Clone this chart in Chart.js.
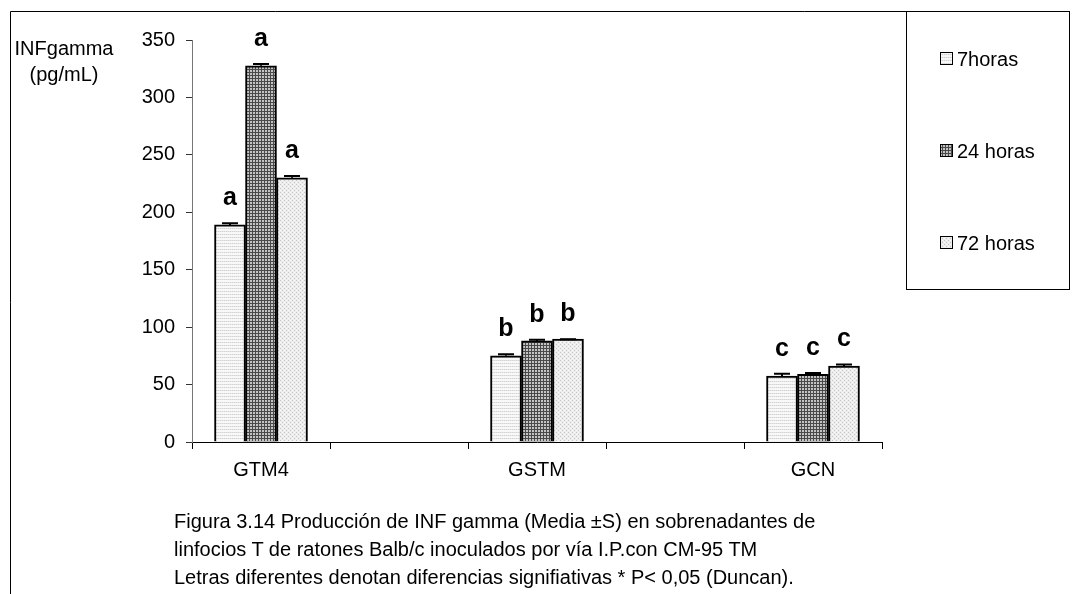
<!DOCTYPE html>
<html><head><meta charset="utf-8">
<script src="https://cdn.jsdelivr.net/npm/chart.js@4.4.1/dist/chart.umd.min.js"></script>
<style>
html,body{margin:0;padding:0;background:#fff;}
#wrap{position:relative;width:1074px;height:594px;overflow:hidden;font-family:"Liberation Sans",Arial,sans-serif;color:#000;background:#fff;}
#c{position:absolute;left:0;top:0;}
#ytitle{position:absolute;left:0;top:35px;width:128px;text-align:center;font-size:20px;line-height:26px;}
#caption{position:absolute;left:174px;top:507px;font-size:20px;line-height:28px;white-space:nowrap;}
</style></head>
<body><div id="wrap"><canvas id="c" width="1074" height="594"></canvas>
<div id="ytitle"></div><div id="caption"></div></div>
<script>
// ---- data ----
const categories = ['GTM4', 'GSTM', 'GCN'];
const seriesNames = ['7horas', '24 horas', '72 horas'];
const values7h  = [189, 75, 57.5];
const values24h = [327.5, 88, 59];
const values72h = [230, 89.5, 66];
const errors7h  = [1.5, 1.5, 2];
const errors24h = [1.5, 1, 1];
const errors72h = [1.5, 0, 1.5];
const letters7h  = ['a', 'b', 'c'];
const letters24h = ['a', 'b', 'c'];
const letters72h = ['a', 'b', 'c'];
const yTickValues = [0, 50, 100, 150, 200, 250, 300, 350];
const yAxisTitle = ['INFgamma', '(pg/mL)'];
const captionLines = [
  'Figura 3.14 Producción de INF gamma (Media ±S) en sobrenadantes de',
  'linfocios T de ratones Balb/c inoculados por vía I.P.con CM-95 TM',
  'Letras diferentes denotan diferencias signifiativas * P< 0,05 (Duncan).'
];

document.getElementById('ytitle').innerHTML = yAxisTitle.join('<br>');
document.getElementById('caption').innerHTML = captionLines.join('<br>');

const FONT = '"Liberation Sans", Arial, sans-serif';

function makePattern(w, h, draw) {
  const c = document.createElement('canvas');
  c.width = w; c.height = h;
  const g = c.getContext('2d');
  draw(g);
  return g.createPattern(c, 'repeat');
}
const pat7 = makePattern(4, 3, g => {
  g.fillStyle = '#f8f8f8'; g.fillRect(0, 0, 4, 3);
  g.fillStyle = '#d2d2d2'; g.fillRect(0, 0, 4, 1);
  g.fillStyle = '#e6e6e6'; g.fillRect(1, 0, 1, 1); g.fillRect(3, 0, 1, 1);
});
const pat24 = makePattern(3, 3, g => {
  g.fillStyle = '#c4c4c4'; g.fillRect(0, 0, 3, 3);
  g.fillStyle = '#4a4a4a'; g.fillRect(0, 0, 3, 1); g.fillRect(0, 0, 1, 3);
});
const pat72 = makePattern(4, 4, g => {
  g.fillStyle = '#ededed'; g.fillRect(0, 0, 4, 4);
  g.fillStyle = '#c6c6c6'; g.fillRect(0, 0, 1, 1); g.fillRect(2, 2, 1, 1);
  g.fillStyle = '#f8f8f8'; g.fillRect(2, 0, 1, 1); g.fillRect(0, 2, 1, 1);
});

const seriesValues = [values7h, values24h, values72h];
const seriesErrors = [errors7h, errors24h, errors72h];
const seriesLetters = [letters7h, letters24h, letters72h];
const seriesFill = [pat7, pat24, pat72];

const datasets = seriesNames.map((name, s) => ({
  label: name,
  data: seriesValues[s].map((v, i) => ({ x: i + 1, y: v })),
  errors: seriesErrors[s],
  letters: seriesLetters[s],
  backgroundColor: seriesFill[s],
  borderColor: '#000',
  borderWidth: 2,
  barThickness: 31,
  grouped: true
}));

const errorBarsPlugin = {
  id: 'errorBars',
  afterDatasetsDraw(chart) {
    const ctx = chart.ctx, y = chart.scales.y;
    ctx.save();
    chart.data.datasets.forEach((ds, di) => {
      const meta = chart.getDatasetMeta(di);
      meta.data.forEach((el, i) => {
        const v = ds.data[i].y, e = ds.errors[i];
        const top = y.getPixelForValue(v + e);
        ctx.strokeStyle = '#000';
        ctx.lineWidth = 2;
        ctx.beginPath();
        ctx.moveTo(el.x, el.y); ctx.lineTo(el.x, top);
        ctx.moveTo(el.x - 8, top); ctx.lineTo(el.x + 8, top);
        ctx.stroke();
        // significance letter
        ctx.fillStyle = '#000';
        ctx.font = 'bold 25px ' + FONT;
        ctx.textAlign = 'center';
        ctx.textBaseline = 'alphabetic';
        ctx.fillText(ds.letters[i], el.x, top - 18);
      });
    });
    ctx.restore();
  }
};

const frameLegendPlugin = {
  id: 'frameLegend',
  afterDraw(chart) {
    const ctx = chart.ctx;
    ctx.save();
    ctx.strokeStyle = '#000';
    ctx.lineWidth = 1;
    ctx.beginPath();
    ctx.moveTo(10.5, 594); ctx.lineTo(10.5, 11.5); ctx.lineTo(1069.5, 11.5);
    ctx.stroke();
    ctx.strokeRect(906.5, 11.5, 163, 278);
    const rows = [59, 151, 243];
    ctx.font = '20px ' + FONT;
    ctx.textBaseline = 'middle';
    ctx.textAlign = 'left';
    chart.data.datasets.forEach((ds, i) => {
      const cy = rows[i];
      ctx.fillStyle = ds.backgroundColor;
      ctx.fillRect(940, cy - 6, 12, 12);
      ctx.strokeStyle = '#000';
      ctx.lineWidth = 1;
      ctx.strokeRect(940.5, cy - 6.5, 12, 12);
      ctx.fillStyle = '#000';
      ctx.fillText(ds.label, 957, cy + 1);
    });
    ctx.restore();
  }
};

new Chart(document.getElementById('c'), {
  type: 'bar',
  data: { datasets },
  plugins: [errorBarsPlugin, frameLegendPlugin],
  options: {
    responsive: false,
    animation: false,
    layout: { padding: { left: 0, top: 40, right: 192, bottom: 112 } },
    plugins: { legend: { display: false }, tooltip: { enabled: false } },
    scales: {
      x: {
        type: 'linear',
        min: 0.75, max: 3.25,
        offset: false,
        afterBuildTicks: s => {
          s.ticks = [0.75, 1, 1.25, 1.75, 2, 2.25, 2.75, 3, 3.25].map(v => ({ value: v }));
        },
        afterFit: s => { s.height = 40; },
        border: { color: '#000', width: 1 },
        grid: {
          offset: false,
          drawOnChartArea: false,
          tickLength: 7,
          tickWidth: 1,
          tickColor: c => (c.tick && Number.isInteger(c.tick.value)) ? 'rgba(0,0,0,0)' : '#000'
        },
        ticks: {
          autoSkip: false,
          maxRotation: 0,
          padding: 9,
          color: '#000',
          font: { family: FONT, size: 20 },
          callback: v => Number.isInteger(v) ? categories[v - 1] : ''
        }
      },
      y: {
        min: 0, max: 350,
        afterBuildTicks: s => { s.ticks = yTickValues.map(v => ({ value: v })); },
        afterFit: s => { s.width = 192; },
        border: { color: '#777', width: 1 },
        grid: { drawOnChartArea: false, tickLength: 6, tickColor: '#333' },
        ticks: {
          padding: 11,
          color: '#000',
          font: { family: FONT, size: 20 }
        }
      }
    }
  }
});
</script>
</body></html>
